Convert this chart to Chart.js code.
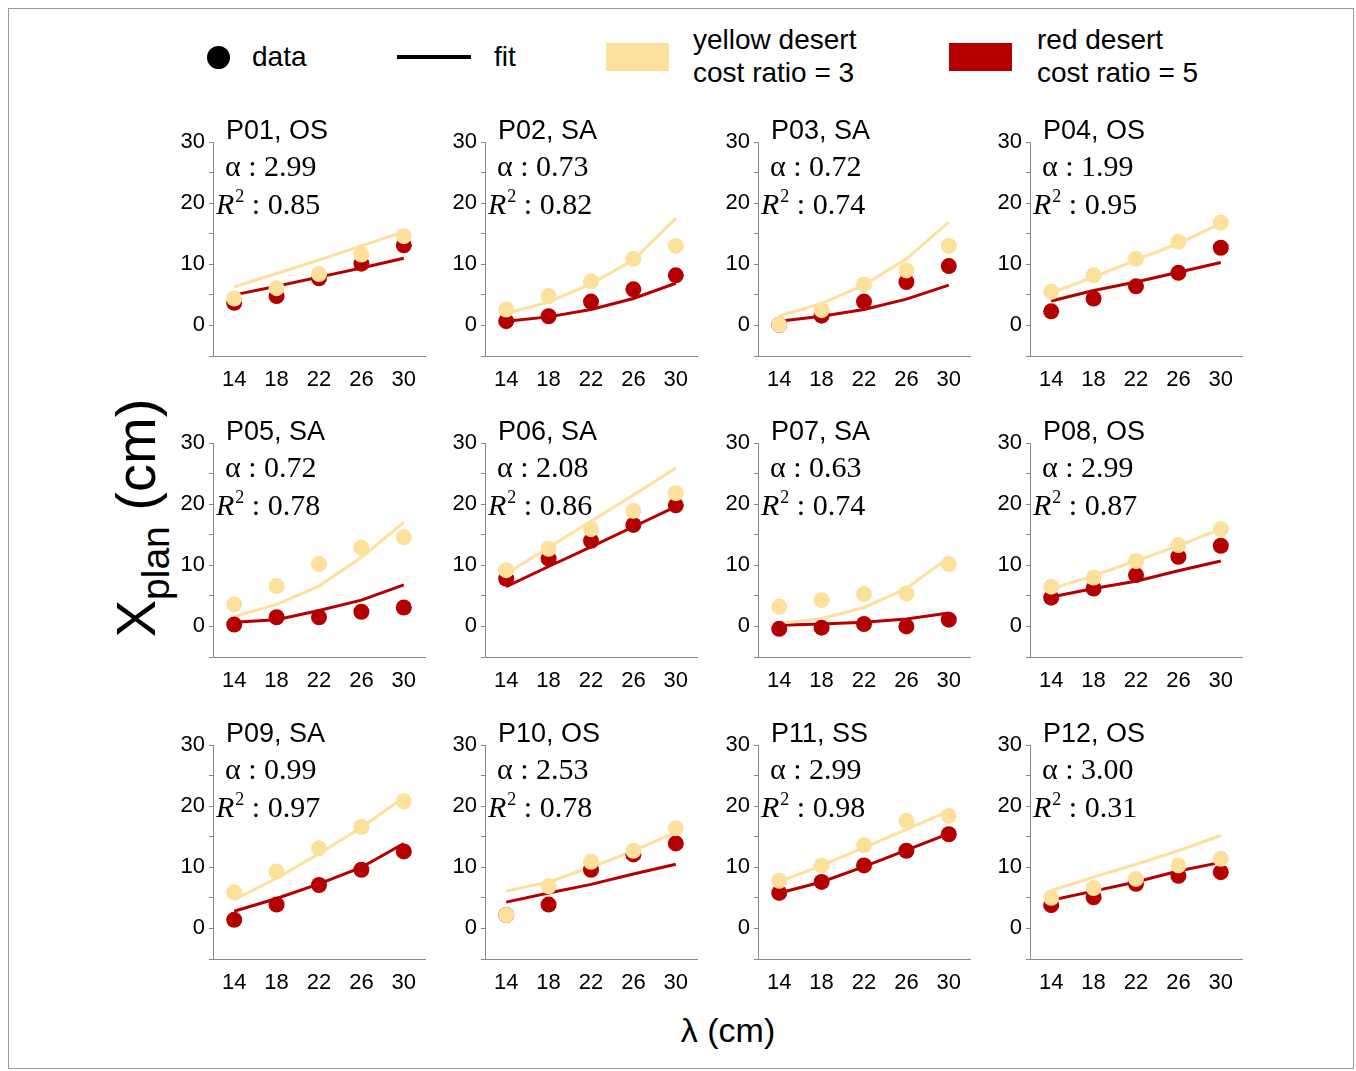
<!DOCTYPE html>
<html>
<head>
<meta charset="utf-8">
<script src="https://cdn.jsdelivr.net/npm/chart.js@4.4.1/dist/chart.umd.min.js"></script>
<style>
  body { margin: 0; background: #fff; }
  #page { position: relative; width: 1356px; height: 1071px; overflow: hidden; font-family: "Liberation Sans", Arial, sans-serif; color: #000; }
  #frame { position: absolute; left: 8px; top: 8px; width: 1344px; height: 1059px; border: 1px solid #9a9a9a; }
  .panel { position: absolute; }
  .lg { position: absolute; font-size: 28px; line-height: 1; white-space: nowrap; }
  .sw { position: absolute; }
  #ytitle { position: absolute; left: 136px; top: 518px; transform: translate(-50%, -50%) rotate(-90deg); font-size: 56px; white-space: nowrap; line-height: 1; }
  #ytitle sub { font-size: 39px; vertical-align: -0.35em; line-height: 0; }
  #xtitle { position: absolute; left: 728px; top: 1030px; transform: translate(-50%, -50%); font-size: 34px; white-space: nowrap; line-height: 1; }
</style>
</head>
<body>
<div id="page">
  <div id="frame"></div>

  <!-- legend -->
  <div class="sw" style="left:207px;top:46px;width:23px;height:23px;border-radius:50%;background:#000;"></div>
  <div class="lg" style="left:252px;top:43px;">data</div>
  <div class="sw" style="left:397px;top:55px;width:74px;height:4px;background:#000;"></div>
  <div class="lg" style="left:494px;top:43px;">fit</div>
  <div class="sw" style="left:606px;top:43px;width:63px;height:28px;background:#FDE09C;"></div>
  <div class="lg" style="left:693px;top:26px;">yellow desert</div>
  <div class="lg" style="left:693px;top:59px;">cost ratio = 3</div>
  <div class="sw" style="left:949px;top:43px;width:63px;height:28px;background:#B40000;"></div>
  <div class="lg" style="left:1037px;top:26px;">red desert</div>
  <div class="lg" style="left:1037px;top:59px;">cost ratio = 5</div>

  <div id="ytitle">X<sub>plan</sub> (cm)</div>
  <div id="xtitle">λ (cm)</div>
</div>

<script>
const YELLOW = "#FDE09C";
const RED = "#B40000";
const AXIS = "#8a8a8a";
const SANS = '"Liberation Sans", Arial, sans-serif';
const SERIF = '"Liberation Serif", "Times New Roman", serif';

// x values (lambda, cm)
const lambdas = [14, 18, 22, 26, 30];

const labels = ["P01, OS", "P02, SA", "P03, SA", "P04, OS", "P05, SA", "P06, SA",
                "P07, SA", "P08, OS", "P09, SA", "P10, OS", "P11, SS", "P12, OS"];
const alphas = ["2.99", "0.73", "0.72", "1.99", "0.72", "2.08",
                "0.63", "2.99", "0.99", "2.53", "2.99", "3.00"];
const r2s = ["0.85", "0.82", "0.74", "0.95", "0.78", "0.86",
             "0.74", "0.87", "0.97", "0.78", "0.98", "0.31"];

// data points, yellow desert (cost ratio = 3)
const yellowData = [
  [4.4, 6.1, 8.4, 11.6, 14.6],
  [2.6, 4.8, 7.2, 10.9, 13.0],
  [0.1, 2.5, 6.7, 9.0, 13.0],
  [5.5, 8.2, 10.9, 13.7, 16.8],
  [3.6, 6.6, 10.2, 12.9, 14.6],
  [9.2, 12.7, 15.9, 18.9, 21.8],
  [3.2, 4.3, 5.3, 5.4, 10.2],
  [6.5, 8.0, 10.7, 13.3, 15.9],
  [5.9, 9.3, 13.1, 16.6, 20.8],
  [2.2, 6.9, 10.9, 12.7, 16.4],
  [7.8, 10.3, 13.6, 17.6, 18.4],
  [5.0, 6.6, 8.1, 10.3, 11.4]
];

// data points, red desert (cost ratio = 5)
const redData = [
  [3.7, 4.8, 7.7, 10.1, 13.1],
  [0.7, 1.5, 3.9, 5.9, 8.2],
  [0.1, 1.6, 3.9, 7.1, 9.7],
  [2.3, 4.4, 6.4, 8.6, 12.7],
  [0.3, 1.5, 1.5, 2.4, 3.1],
  [7.8, 11.1, 14.0, 16.6, 19.8],
  [-0.4, -0.2, 0.4, 0.0, 1.1],
  [4.7, 6.2, 8.4, 11.4, 13.2],
  [1.4, 3.9, 7.1, 9.6, 12.6],
  [2.2, 3.9, 9.6, 12.1, 13.9],
  [5.8, 7.6, 10.3, 12.7, 15.4],
  [3.8, 5.1, 7.3, 8.6, 9.2]
];

// model fit, yellow desert
const yellowFit = [
  [6.3, 8.5, 10.7, 13.0, 15.3],
  [2.0, 3.8, 6.8, 10.7, 17.5],
  [1.5, 3.6, 6.6, 10.9, 16.9],
  [5.3, 7.9, 10.7, 13.4, 16.7],
  [1.6, 3.6, 6.6, 11.3, 17.0],
  [8.6, 12.9, 17.2, 21.5, 25.9],
  [0.5, 1.3, 3.1, 6.2, 11.3],
  [6.1, 8.3, 10.7, 13.2, 15.9],
  [4.7, 8.2, 12.2, 16.5, 21.4],
  [6.1, 7.6, 10.0, 12.7, 15.7],
  [7.6, 10.3, 13.2, 16.2, 19.2],
  [6.2, 8.4, 10.5, 12.7, 15.2]
];

// model fit, red desert
const redFit = [
  [5.0, 6.4, 7.9, 9.4, 11.0],
  [0.7, 1.4, 2.6, 4.4, 6.9],
  [0.7, 1.5, 2.6, 4.3, 6.6],
  [4.0, 5.7, 7.1, 8.7, 10.3],
  [0.7, 1.1, 2.6, 4.3, 6.8],
  [6.5, 9.8, 13.0, 16.3, 19.6],
  [0.2, 0.4, 0.7, 1.2, 2.2],
  [4.8, 6.2, 7.4, 9.1, 10.7],
  [2.8, 4.9, 7.3, 10.0, 13.9],
  [4.3, 5.8, 7.2, 8.9, 10.5],
  [5.8, 7.6, 10.1, 12.8, 15.5],
  [4.6, 6.1, 7.6, 9.4, 10.8]
];

// panel grid: y-axis x position per column, top (y = 30) per row
const colX = [213, 485, 758, 1030];
const rowY = [142, 443, 745];

const PAD_TOP = 40, Y_W = 50, X_H = 40, PLOT_W = 215, PLOT_H = 214, PAD_R = 5;

function pts(ys) {
  return lambdas.map((x, k) => ({ x: x, y: ys[k] }));
}

// participant label, alpha and R^2 text
const annotPlugin = {
  id: "annot",
  afterDraw(chart, args, opts) {
    const { ctx, chartArea } = chart;
    const i = opts.index;
    ctx.save();
    ctx.fillStyle = "#000";
    ctx.textBaseline = "alphabetic";
    ctx.textAlign = "left";
    ctx.font = "27px " + SANS;
    ctx.fillText(labels[i], chartArea.left + 13, chartArea.top - 3);

    ctx.font = "30px " + SERIF;
    ctx.fillText("α : " + alphas[i], chartArea.left + 12, chartArea.top + 34);

    let x = chartArea.left + 3;
    const y = chartArea.top + 72;
    ctx.font = "italic 30px " + SERIF;
    ctx.fillText("R", x, y);
    x += ctx.measureText("R").width + 1;
    ctx.font = "18px " + SERIF;
    ctx.fillText("2", x, y - 12);
    x += ctx.measureText("2").width;
    ctx.font = "30px " + SERIF;
    ctx.fillText(" : " + r2s[i], x, y);
    ctx.restore();
  }
};

const page = document.getElementById("page");

for (let i = 0; i < 12; i++) {
  const col = i % 4, row = Math.floor(i / 4);
  const canvas = document.createElement("canvas");
  canvas.className = "panel";
  canvas.width = Y_W + PLOT_W + PAD_R;
  canvas.height = PAD_TOP + PLOT_H + X_H;
  canvas.style.left = (colX[col] - Y_W) + "px";
  canvas.style.top = (rowY[row] - PAD_TOP) + "px";
  page.appendChild(canvas);

  new Chart(canvas, {
    type: "scatter",
    data: {
      datasets: [
        { data: pts(yellowData[i]), backgroundColor: YELLOW, borderColor: YELLOW, pointRadius: 8, pointBorderWidth: 0, order: 1 },
        { data: pts(redData[i]), backgroundColor: RED, borderColor: RED, pointRadius: 8, pointBorderWidth: 0, order: 2 },
        { data: pts(yellowFit[i]), showLine: true, borderColor: YELLOW, borderWidth: 3, pointRadius: 0, order: 3 },
        { data: pts(redFit[i]), showLine: true, borderColor: RED, borderWidth: 3, pointRadius: 0, order: 4 }
      ]
    },
    options: {
      responsive: false,
      animation: false,
      layout: { padding: { top: PAD_TOP, right: PAD_R, left: 0, bottom: 0 } },
      plugins: {
        legend: { display: false },
        tooltip: { enabled: false },
        annot: { index: i }
      },
      scales: {
        x: {
          type: "linear",
          min: 12,
          max: 32,
          afterBuildTicks: (s) => { s.ticks = lambdas.map((v) => ({ value: v })); },
          afterFit: (s) => { s.height = X_H; },
          grid: { display: false, drawTicks: false },
          border: { display: true, color: AXIS, width: 1 },
          ticks: { padding: 11, color: "#000", maxRotation: 0, font: { family: SANS, size: 22 } }
        },
        y: {
          min: -5,
          max: 30,
          afterFit: (s) => { s.width = Y_W; },
          grid: { drawOnChartArea: false, drawTicks: true, tickLength: 4, color: AXIS },
          border: { display: true, color: AXIS, width: 1 },
          ticks: {
            stepSize: 5,
            padding: 4,
            color: "#000",
            font: { family: SANS, size: 22 },
            callback: (v) => (v >= 0 && v % 10 === 0 ? v : "")
          }
        }
      }
    },
    plugins: [annotPlugin]
  });
}
</script>
</body>
</html>
